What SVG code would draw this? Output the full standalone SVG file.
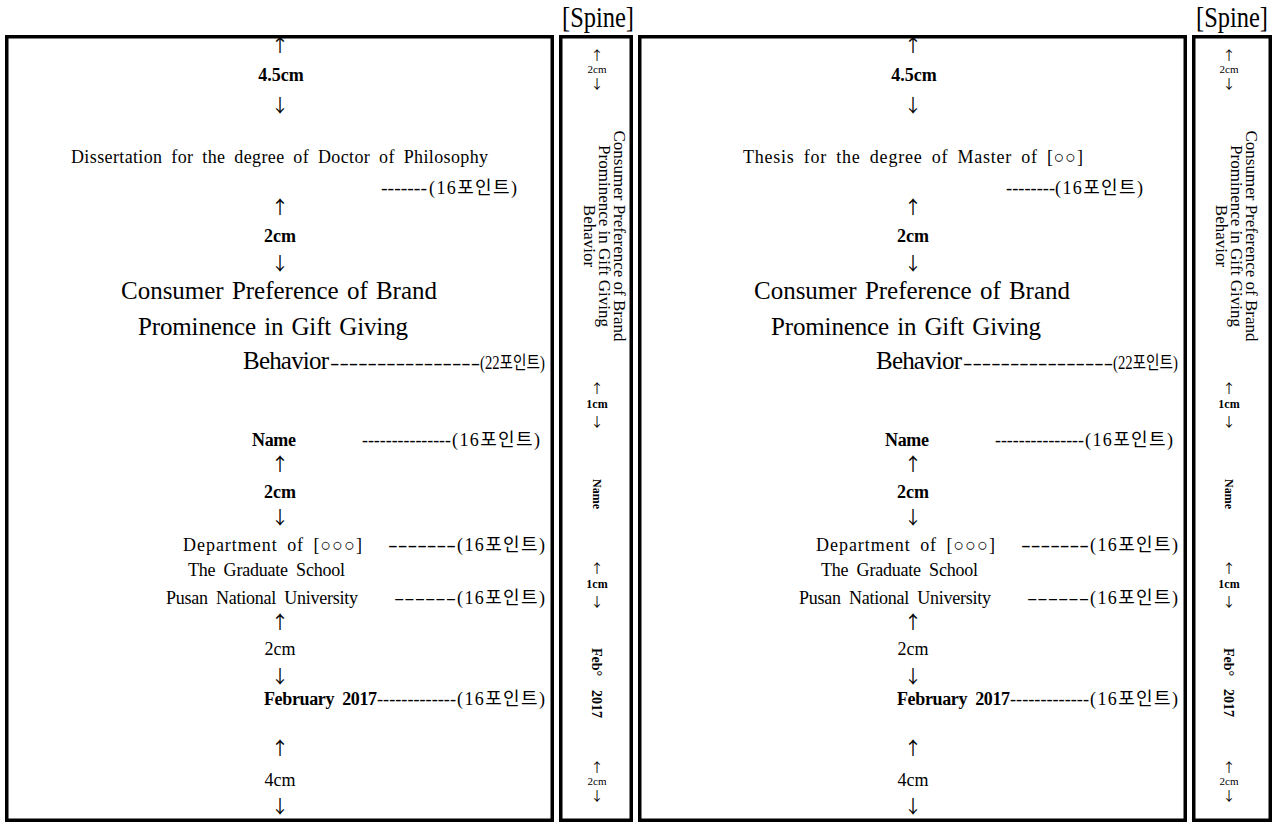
<svg xmlns="http://www.w3.org/2000/svg" width="1276" height="823" viewBox="0 0 1276 823">
<style>
text{font-family:"Liberation Serif","Times New Roman","DejaVu Serif","Noto Sans CJK KR",serif;fill:#000}
.kr{font-family:"Liberation Serif","Noto Sans CJK KR",serif}
.b{font-weight:bold}
.t18{font-size:18px}
.t25{font-size:25px;word-spacing:2px}
.ws{word-spacing:4px}
.c{text-anchor:middle}
.e{text-anchor:end}
.arr{font-family:"Noto Sans CJK KR","DejaVu Sans",sans-serif;font-weight:400;font-size:18px;text-anchor:middle}
.sarr{font-family:"Noto Sans CJK KR","DejaVu Sans",sans-serif;font-weight:400;font-size:13px;text-anchor:middle}
.s11{font-size:11px;text-anchor:middle}
.s12{font-size:12px;text-anchor:middle;font-weight:bold}
.s14{font-size:14px;text-anchor:middle;font-weight:bold}
.sp{font-size:17px;text-anchor:middle}
.box{fill:#fff;stroke:#000;stroke-width:3.5}
.hd{font-size:30px}
</style>
<rect width="1276" height="823" fill="#fff"/>

<text class="hd" x="562" y="27" textLength="72" lengthAdjust="spacingAndGlyphs">[Spine]</text>
<text class="hd" x="1196" y="27" textLength="72" lengthAdjust="spacingAndGlyphs">[Spine]</text>

<g id="cover-doctor">
<rect class="box" x="6.75" y="36.75" width="545.5" height="783.5"/>
<text class="arr" x="280" y="52">↑</text>
<text class="t18 b c" x="281" y="81">4.5cm</text>
<text class="arr" x="280" y="112">↓</text>
<text class="t18 ws" x="71" y="163" textLength="417" lengthAdjust="spacing">Dissertation for the degree of Doctor of Philosophy</text>
<text class="t18" x="381" y="194" textLength="46" lengthAdjust="spacingAndGlyphs">-------</text>
<text class="t18 kr e" x="517" y="194" textLength="88" lengthAdjust="spacing">(16포인트)</text>
<text class="arr" x="280" y="214">↑</text>
<text class="t18 b c" x="280" y="242">2cm</text>
<text class="arr" x="280" y="270">↓</text>
<text class="t25" x="121" y="299" textLength="316" lengthAdjust="spacing">Consumer Preference of Brand</text>
<text class="t25" x="138" y="335" textLength="270" lengthAdjust="spacing">Prominence in Gift Giving</text>
<text class="t25" x="243" y="369" textLength="86" lengthAdjust="spacing">Behavior</text>
<text class="t18" x="330" y="369" textLength="150" lengthAdjust="spacingAndGlyphs">----------------</text>
<text class="t18 kr e" x="545" y="369" textLength="65" lengthAdjust="spacingAndGlyphs">(22포인트)</text>
<text class="t18 b" x="252" y="446" textLength="44" lengthAdjust="spacing">Name</text>
<text class="t18" x="362" y="446" textLength="89" lengthAdjust="spacingAndGlyphs">---------------</text>
<text class="t18 kr e" x="540" y="446" textLength="88" lengthAdjust="spacing">(16포인트)</text>
<text class="arr" x="280" y="471">↑</text>
<text class="t18 b c" x="280" y="498">2cm</text>
<text class="arr" x="280" y="524">↓</text>
<text class="t18 ws" x="183" y="551" textLength="179" lengthAdjust="spacing">Department of [○○○]</text>
<text class="t18" x="388" y="551" textLength="68" lengthAdjust="spacingAndGlyphs">-------</text>
<text class="t18 kr e" x="545" y="551" textLength="88" lengthAdjust="spacing">(16포인트)</text>
<text class="t18 ws" x="188" y="576" textLength="157" lengthAdjust="spacing">The Graduate School</text>
<text class="t18 ws" x="166" y="604" textLength="192" lengthAdjust="spacing">Pusan National University</text>
<text class="t18" x="394" y="604" textLength="62" lengthAdjust="spacingAndGlyphs">------</text>
<text class="t18 kr e" x="545" y="604" textLength="88" lengthAdjust="spacing">(16포인트)</text>
<text class="arr" x="280" y="629">↑</text>
<text class="t18 c" x="280" y="655">2cm</text>
<text class="arr" x="280" y="683">↓</text>
<text class="t18 b ws" x="264" y="705" textLength="113" lengthAdjust="spacing">February 2017</text>
<text class="t18" x="377" y="705" textLength="79" lengthAdjust="spacingAndGlyphs">-------------</text>
<text class="t18 kr e" x="545" y="705" textLength="88" lengthAdjust="spacing">(16포인트)</text>
<text class="arr" x="280" y="755">↑</text>
<text class="t18 c" x="280" y="786">4cm</text>
<text class="arr" x="280" y="813">↓</text>
</g>

<g id="spine-doctor">
<rect class="box" x="560.75" y="36.75" width="70.5" height="783.5"/>
<text class="sarr" x="597" y="60">↑</text>
<text class="s11" x="597" y="73">2cm</text>
<text class="sarr" x="597" y="88">↓</text>
<text class="sp" transform="translate(614,236) rotate(90)"><tspan x="0" y="0">Consumer Preference of Brand</tspan><tspan x="0" y="15">Prominence in Gift Giving</tspan><tspan x="0" y="30">Behavior</tspan></text>
<text class="sarr" x="597" y="393">↑</text>
<text class="s12" x="597" y="408">1cm</text>
<text class="sarr" x="597" y="426">↓</text>
<text class="s12" transform="translate(593,494) rotate(90)">Name</text>
<text class="sarr" x="597" y="573">↑</text>
<text class="s12" x="597" y="588">1cm</text>
<text class="sarr" x="597" y="606">↓</text>
<text class="s14" transform="translate(592,662) rotate(90)">Feb°</text>
<text class="s14" transform="translate(592,704) rotate(90)">2017</text>
<text class="sarr" x="597" y="772">↑</text>
<text class="s11" x="597" y="785">2cm</text>
<text class="sarr" x="597" y="800">↓</text>
</g>

<g id="cover-master">
<rect class="box" x="639.75" y="36.75" width="545.5" height="783.5"/>
<text class="arr" x="913" y="52">↑</text>
<text class="t18 b c" x="914" y="81">4.5cm</text>
<text class="arr" x="913" y="112">↓</text>
<text class="t18 ws" x="743" y="163" textLength="340" lengthAdjust="spacing">Thesis for the degree of Master of [○○]</text>
<text class="t18" x="1006" y="194" textLength="49" lengthAdjust="spacingAndGlyphs">--------</text>
<text class="t18 kr e" x="1143" y="194" textLength="88" lengthAdjust="spacing">(16포인트)</text>
<text class="arr" x="913" y="214">↑</text>
<text class="t18 b c" x="913" y="242">2cm</text>
<text class="arr" x="913" y="270">↓</text>
<text class="t25" x="754" y="299" textLength="316" lengthAdjust="spacing">Consumer Preference of Brand</text>
<text class="t25" x="771" y="335" textLength="270" lengthAdjust="spacing">Prominence in Gift Giving</text>
<text class="t25" x="876" y="369" textLength="86" lengthAdjust="spacing">Behavior</text>
<text class="t18" x="963" y="369" textLength="150" lengthAdjust="spacingAndGlyphs">----------------</text>
<text class="t18 kr e" x="1178" y="369" textLength="65" lengthAdjust="spacingAndGlyphs">(22포인트)</text>
<text class="t18 b" x="885" y="446" textLength="44" lengthAdjust="spacing">Name</text>
<text class="t18" x="995" y="446" textLength="89" lengthAdjust="spacingAndGlyphs">---------------</text>
<text class="t18 kr e" x="1173" y="446" textLength="88" lengthAdjust="spacing">(16포인트)</text>
<text class="arr" x="913" y="471">↑</text>
<text class="t18 b c" x="913" y="498">2cm</text>
<text class="arr" x="913" y="524">↓</text>
<text class="t18 ws" x="816" y="551" textLength="179" lengthAdjust="spacing">Department of [○○○]</text>
<text class="t18" x="1021" y="551" textLength="68" lengthAdjust="spacingAndGlyphs">-------</text>
<text class="t18 kr e" x="1178" y="551" textLength="88" lengthAdjust="spacing">(16포인트)</text>
<text class="t18 ws" x="821" y="576" textLength="157" lengthAdjust="spacing">The Graduate School</text>
<text class="t18 ws" x="799" y="604" textLength="192" lengthAdjust="spacing">Pusan National University</text>
<text class="t18" x="1027" y="604" textLength="62" lengthAdjust="spacingAndGlyphs">------</text>
<text class="t18 kr e" x="1178" y="604" textLength="88" lengthAdjust="spacing">(16포인트)</text>
<text class="arr" x="913" y="629">↑</text>
<text class="t18 c" x="913" y="655">2cm</text>
<text class="arr" x="913" y="683">↓</text>
<text class="t18 b ws" x="897" y="705" textLength="113" lengthAdjust="spacing">February 2017</text>
<text class="t18" x="1010" y="705" textLength="79" lengthAdjust="spacingAndGlyphs">-------------</text>
<text class="t18 kr e" x="1178" y="705" textLength="88" lengthAdjust="spacing">(16포인트)</text>
<text class="arr" x="913" y="755">↑</text>
<text class="t18 c" x="913" y="786">4cm</text>
<text class="arr" x="913" y="813">↓</text>
</g>

<g id="spine-master">
<rect class="box" x="1193.75" y="36.75" width="76.5" height="783.5"/>
<text class="sarr" x="1229" y="60">↑</text>
<text class="s11" x="1229" y="73">2cm</text>
<text class="sarr" x="1229" y="88">↓</text>
<text class="sp" transform="translate(1246,236) rotate(90)"><tspan x="0" y="0">Consumer Preference of Brand</tspan><tspan x="0" y="15">Prominence in Gift Giving</tspan><tspan x="0" y="30">Behavior</tspan></text>
<text class="sarr" x="1229" y="393">↑</text>
<text class="s12" x="1229" y="408">1cm</text>
<text class="sarr" x="1229" y="426">↓</text>
<text class="s12" transform="translate(1225,494) rotate(90)">Name</text>
<text class="sarr" x="1229" y="573">↑</text>
<text class="s12" x="1229" y="588">1cm</text>
<text class="sarr" x="1229" y="606">↓</text>
<text class="s14" transform="translate(1224,662) rotate(90)">Feb°</text>
<text class="s14" transform="translate(1224,703) rotate(90)">2017</text>
<text class="sarr" x="1229" y="772">↑</text>
<text class="s11" x="1229" y="785">2cm</text>
<text class="sarr" x="1229" y="800">↓</text>
</g>
</svg>
